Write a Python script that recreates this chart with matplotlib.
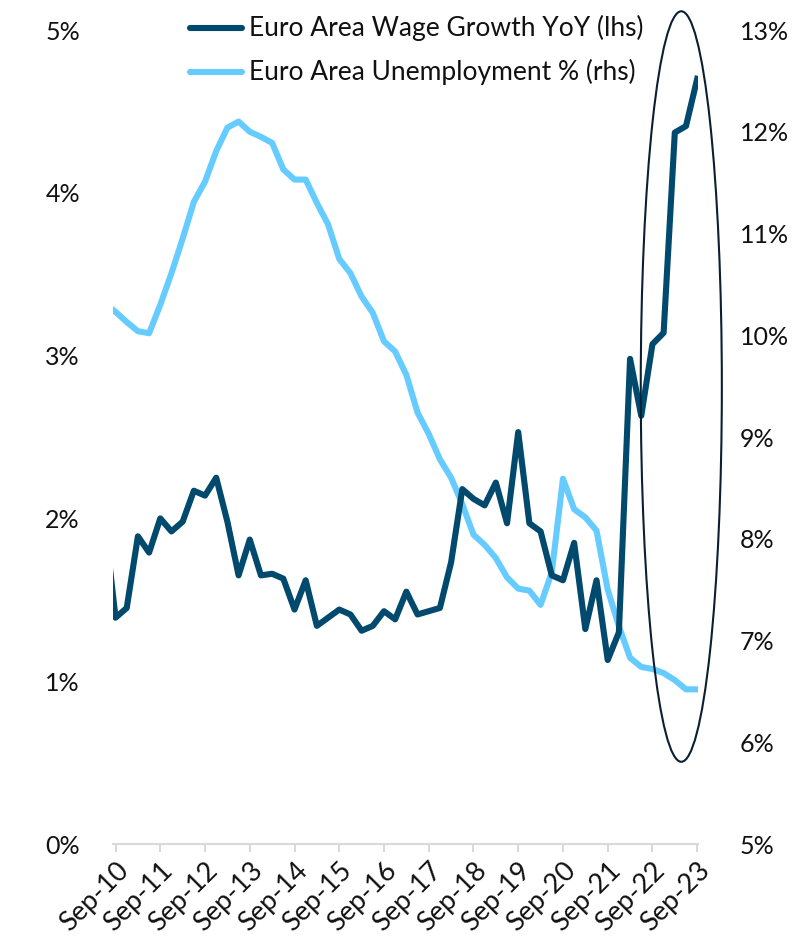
import numpy as np
import matplotlib
matplotlib.use("Agg")
import matplotlib.pyplot as plt
from matplotlib.patches import Ellipse
from matplotlib.lines import Line2D
from matplotlib.ticker import FuncFormatter

plt.rcParams['font.family'] = ['Lato', 'DejaVu Sans']

# quarterly, Jun-10 .. Sep-23 (first point sits just left of the axis)
quarter_idx = np.arange(-1, 53)
wage_growth = [2.00,
               1.39, 1.45, 1.89, 1.79, 2.00, 1.92, 1.98, 2.17, 2.14, 2.25,
               1.98, 1.65, 1.87, 1.65, 1.66, 1.63, 1.44, 1.62, 1.34, 1.39,
               1.44, 1.41, 1.31, 1.34, 1.43, 1.38, 1.55, 1.41, 1.43, 1.45,
               1.73, 2.18, 2.12, 2.08, 2.22, 1.97, 2.53, 1.97, 1.92, 1.65,
               1.62, 1.85, 1.32, 1.62, 1.13, 1.30, 2.98, 2.63, 3.07, 3.14,
               4.37, 4.41, 4.70]
unemployment = [10.32,
                10.23, 10.13, 10.04, 10.02, 10.30, 10.61, 10.95, 11.31, 11.51, 11.81,
                12.04, 12.10, 12.00, 11.95, 11.89, 11.63, 11.53, 11.53, 11.30, 11.09,
                10.75, 10.61, 10.38, 10.22, 9.94, 9.84, 9.61, 9.24, 9.03, 8.78,
                8.60, 8.34, 8.04, 7.94, 7.81, 7.62, 7.51, 7.49, 7.35, 7.67,
                8.59, 8.29, 8.21, 8.08, 7.50, 7.14, 6.83, 6.74, 6.72, 6.68,
                6.61, 6.52, 6.52]
tick_labels = ['Sep-10', 'Sep-11', 'Sep-12', 'Sep-13', 'Sep-14', 'Sep-15', 'Sep-16',
               'Sep-17', 'Sep-18', 'Sep-19', 'Sep-20', 'Sep-21', 'Sep-22', 'Sep-23']
labels = ['Euro Area Wage Growth YoY (lhs)', 'Euro Area Unemployment % (rhs)']

dark = '#02496E'
light = '#66CCFF'
fs = 18

fig = plt.figure(figsize=(8.05, 9.41), dpi=100)
ax = fig.add_axes([113.3 / 805, 1 - 844 / 941, 585 / 805, 814 / 941])
ax2 = ax.twinx()

ax.plot(quarter_idx, wage_growth, color=dark, lw=4.4, zorder=3)
ax2.plot(quarter_idx, unemployment, color=light, lw=4.4, zorder=2)
ax.set_zorder(ax2.get_zorder() + 1)
ax.patch.set_visible(False)

ax.set_xlim(-0.2, 52.1)
ax.set_ylim(0, 5)
ax2.set_ylim(5, 13)
ax.set_yticks(np.arange(0, 6))
ax2.set_yticks(np.arange(5, 14))
ax.yaxis.set_major_formatter(FuncFormatter(lambda v, p: f'{v:.0f}%'))
ax2.yaxis.set_major_formatter(FuncFormatter(lambda v, p: f'{v:.0f}%'))

ax.set_xticks(np.arange(0, 53, 4))
ax.set_xticklabels(tick_labels, rotation=45, ha='right', rotation_mode='anchor')

for a in (ax, ax2):
    for s in a.spines.values():
        s.set_visible(False)
ax.spines['bottom'].set_visible(True)
ax.spines['bottom'].set_color('#d9d9d9')
ax.spines['bottom'].set_linewidth(1.5)
ax.tick_params(axis='x', colors='#d9d9d9', length=6, width=1.5, labelcolor='#111111',
               labelsize=19.5, pad=4)
ax.tick_params(axis='y', length=0, labelsize=fs, pad=24, labelcolor='#111111')
ax2.tick_params(axis='y', length=0, labelsize=fs, pad=30, labelcolor='#111111')

# highlight ellipse around the recent surge
ax.add_patch(Ellipse((50.58, 2.81), 7.25, 4.61, fill=False, ec='#0B1F33', lw=1.5,
                     clip_on=False, zorder=4))

# legend drawn by hand at the top
for k, (lab, col) in enumerate(zip(labels, [dark, light])):
    y = 1 - (27.5 + 44 * k) / 941
    fig.add_artist(Line2D([190 / 805, 242 / 805], [y, y], transform=fig.transFigure,
                          color=col, lw=4.4, solid_capstyle='round'))
    fig.text(249 / 805, y, lab, fontsize=19, va='center', ha='left', color='#111111')

fig.savefig('out.png', dpi=100)
